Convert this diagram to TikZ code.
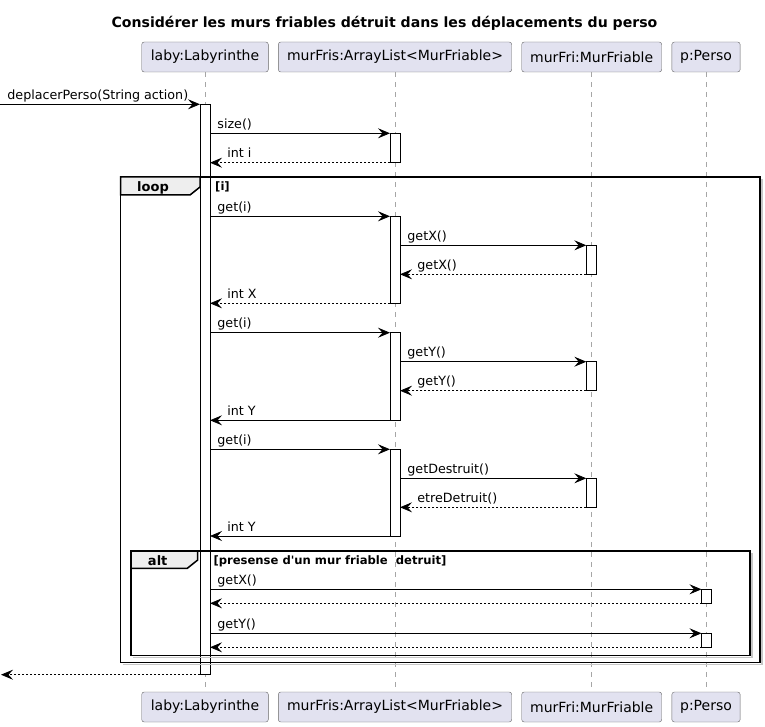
\documentclass[tikz,border=0pt]{standalone}
\usepackage{fontspec}
\setmainfont{DejaVu Sans}
\usetikzlibrary{arrows.meta}
\definecolor{umlbox}{HTML}{E2E2F0}
\definecolor{tabgray}{HTML}{EEEEEE}

\begin{document}
\begin{tikzpicture}[x=1pt, y=-1pt,
  actor/.style={draw=black!60, fill=umlbox, rounded corners=2.5pt, minimum height=30pt,
    inner sep=0pt, font=\fontsize{14}{16}\selectfont},
  life/.style={draw=gray!70, dash pattern=on 5pt off 5pt, line width=0.6pt},
  bar/.style={draw=black, fill=white, minimum width=10pt, inner sep=0pt, outer sep=0pt, line width=0.8pt},
  msg/.style={-{Stealth[length=12pt,width=10pt,inset=4.5pt]}, line width=0.8pt},
  reply/.style={msg, dash pattern=on 2pt off 2pt},
  fwd/.style={anchor=base west, xshift=7pt, yshift=5pt, inner sep=0pt, font=\fontsize{12.7}{15}\selectfont},
  ret/.style={anchor=base west, xshift=17pt, yshift=5pt, inner sep=0pt, font=\fontsize{12.7}{15}\selectfont},
  frame/.style={draw, line width=1.5pt},
  frameshadow/.style={draw=gray!45, line width=1.5pt},
  tab/.style={draw, line width=1.5pt, fill=tabgray},
  tabtext/.style={anchor=base, inner sep=0pt, font=\bfseries\fontsize{13}{15}\selectfont},
  guard/.style={anchor=base west, inner sep=0pt, font=\bfseries\fontsize{11.6}{13}\selectfont}]
  \useasboundingbox (0,0) rectangle (765,727);

  \node[anchor=base, font=\bfseries\fontsize{14.1}{16}\selectfont] (title) at (384.5,28)
    {Considérer les murs friables détruit dans les déplacements du perso};

  % participants, top and bottom
  \node[actor, minimum width=126.6pt] (labyT)  at (205,57)   {laby:Labyrinthe};
  \node[actor, minimum width=233.4pt] (listT)  at (395,57)   {murFris:ArrayList<MurFriable>};
  \node[actor, minimum width=140pt]   (murT)   at (591.7,57) {murFri:MurFriable};
  \node[actor, minimum width=68.3pt]  (persoT) at (706,57)   {p:Perso};
  \node[actor, minimum width=126.6pt] (labyB)  at (205,707)   {laby:Labyrinthe};
  \node[actor, minimum width=233.4pt] (listB)  at (395,707)   {murFris:ArrayList<MurFriable>};
  \node[actor, minimum width=140pt]   (murB)   at (591.7,707) {murFri:MurFriable};
  \node[actor, minimum width=68.3pt]  (persoB) at (706,707)   {p:Perso};

  \draw[life] (labyT)  -- (labyB);
  \draw[life] (listT)  -- (listB);
  \draw[life] (murT)   -- (murB);
  \draw[life] (persoT) -- (persoB);

  % activations
  \node[bar, minimum height=570.4pt] (actL)  at (205,389.5) {};
  \node[bar, minimum height=29.4pt]  (actA1) at (395,148) {};
  \node[bar, minimum height=87pt]    (actA2) at (395,259.8) {};
  \node[bar, minimum height=29pt]    (actB1) at (591.3,259.8) {};
  \node[bar, minimum height=87.6pt]  (actA3) at (395,376.5) {};
  \node[bar, minimum height=29pt]    (actB2) at (591.3,376.2) {};
  \node[bar, minimum height=86.7pt]  (actA4) at (395,492.65) {};
  \node[bar, minimum height=29pt]    (actB3) at (591.3,492.8) {};
  \node[bar, minimum height=14pt]    (actP1) at (706.5,596.3) {};
  \node[bar, minimum height=14pt]    (actP2) at (706.5,640.3) {};

  % loop and alt frames
  \draw[frameshadow] (762,179) |- (122.7,664.7);
  \draw[frame] (120.7,177) rectangle (760,662.7);
  \draw[tab] (120.7,177) -- (200,177) -- (200,187) -- (190,195) -- (120.7,195) -- cycle;
  \node[tabtext] (loopTab) at (153,191.5) {loop};
  \node[guard] (loopGuard) at (215,190.5) {[i]};

  \draw[frameshadow] (752,553) |- (133,657.7);
  \draw[frame] (131,551) rectangle (750,655.7);
  \draw[tab] (131,551) -- (197.7,551) -- (197.7,560) -- (187.3,568.3) -- (131,568.3) -- cycle;
  \node[tabtext] (altTab) at (157.7,565) {alt};
  \node[guard] (altGuard) at (213.3,564.5) {[presense d\textquotesingle un mur friable\ \ detruit]};

  % messages
  \coordinate (inL) at (0,104.3);
  \coordinate (outL) at (1,674.7);
  \draw[msg] (inL) node[fwd] {deplacerPerso(String action)} -- (actL.north west);
  \draw[msg] (actL.east |- actA1.north) node[fwd] {size()} -- (actA1.north west);
  \draw[reply] (actA1.south west) -- (actL.east |- actA1.south) node[ret] {int i};

  \draw[msg] (actL.east |- actA2.north) node[fwd] {get(i)} -- (actA2.north west);
  \draw[msg] (actA2.east |- actB1.north) node[fwd] {getX()} -- (actB1.north west);
  \draw[reply] (actB1.south west) -- (actA2.east |- actB1.south) node[ret] {getX()};
  \draw[reply] (actA2.south west) -- (actL.east |- actA2.south) node[ret] {int X};

  \draw[msg] (actL.east |- actA3.north) node[fwd] {get(i)} -- (actA3.north west);
  \draw[msg] (actA3.east |- actB2.north) node[fwd] {getY()} -- (actB2.north west);
  \draw[reply] (actB2.south west) -- (actA3.east |- actB2.south) node[ret] {getY()};
  \draw[msg] (actA3.south west) -- (actL.east |- actA3.south) node[ret] {int Y};

  \draw[msg] (actL.east |- actA4.north) node[fwd] {get(i)} -- (actA4.north west);
  \draw[msg] (actA4.east |- actB3.north) node[fwd] {getDestruit()} -- (actB3.north west);
  \draw[reply] (actB3.south west) -- (actA4.east |- actB3.south) node[ret] {etreDetruit()};
  \draw[msg] (actA4.south west) -- (actL.east |- actA4.south) node[ret] {int Y};

  \draw[msg] (actL.east |- actP1.north) node[fwd] {getX()} -- (actP1.north west);
  \draw[reply] (actP1.south west) -- (actL.east |- actP1.south);
  \draw[msg] (actL.east |- actP2.north) node[fwd] {getY()} -- (actP2.north west);
  \draw[reply] (actP2.south west) -- (actL.east |- actP2.south);

  \draw[reply] (actL.south west) -- (outL);
\end{tikzpicture}
\end{document}
